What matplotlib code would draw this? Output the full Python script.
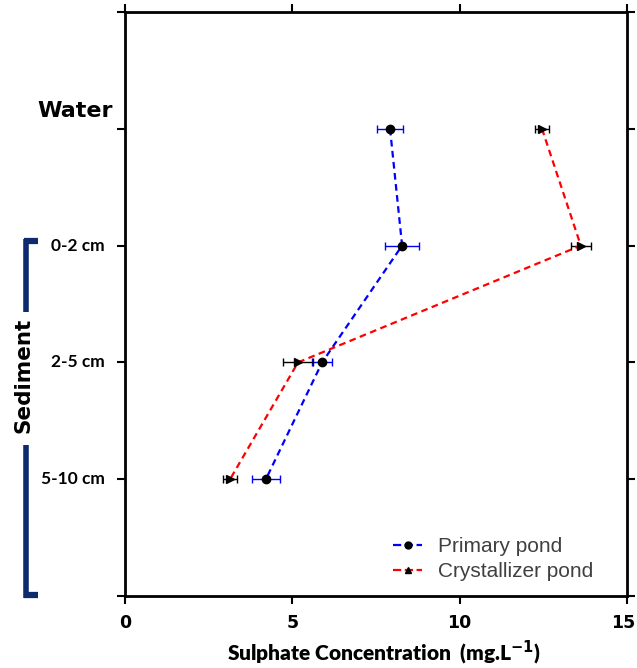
import matplotlib
matplotlib.use("Agg")
import matplotlib.pyplot as plt
from matplotlib.lines import Line2D
from matplotlib.transforms import ScaledTranslation

# Data
layers = ["Water", "0-2 cm", "2-5 cm", "5-10 cm"]
layer_pos = [1, 2, 3, 4]
primary = [7.92, 8.28, 5.89, 4.21]
primary_err = [0.38, 0.5, 0.3, 0.42]
crystal = [12.46, 13.62, 5.17, 3.14]
crystal_err = [0.2, 0.3, 0.45, 0.2]
xticks = [0, 5, 10, 15]

W, H = 637, 668
fig = plt.figure(figsize=(W / 100, H / 100), dpi=100)
ax = fig.add_axes([125 / W, 1 - 596 / H, (627 - 125) / W, (596 - 12) / H])

ax.errorbar(primary, layer_pos, xerr=primary_err, fmt='none', ecolor='blue',
            elinewidth=1, capsize=3, capthick=1, zorder=2)
ax.errorbar(crystal, layer_pos, xerr=crystal_err, fmt='none', ecolor='black',
            elinewidth=1, capsize=3, capthick=1, zorder=2)
ax.plot(primary, layer_pos, color='blue', ls='--', lw=1.6, dashes=(3, 2), zorder=3)
ax.plot(crystal, layer_pos, color='red', ls='--', lw=1.6, dashes=(3, 2), zorder=3)
ax.plot(primary, layer_pos, 'o', color='black', ms=6, zorder=4)
ax.plot(crystal, layer_pos, '>', color='black', ms=6, zorder=4)

ax.set_xlim(0, 15)
ax.set_ylim(5, 0)
ax.set_xticks(xticks)
ax.set_xticklabels([str(t) for t in xticks], fontfamily='DejaVu Sans', fontweight='bold', fontsize=12.5)
ax.set_yticks([0, 1, 2, 3, 4, 5])
ax.set_yticklabels([])
ax.tick_params(axis='both', direction='out', length=6, width=1.5, top=True, right=True,
               labeltop=False, pad=7)
for s in ax.spines.values():
    s.set_linewidth(2)
last = ax.get_xticklabels()[-1]
last.set_transform(last.get_transform() + ScaledTranslation(-4 / 100, 0, fig.dpi_scale_trans))

# y category labels
for lab, p in zip(layers, layer_pos):
    if lab == "Water":
        ax.text(-0.37, p - 0.15, lab, ha='right', va='center', fontfamily='DejaVu Sans',
                fontweight='bold', fontsize=16, transform=ax.transData, clip_on=False)
    else:
        ax.text(-0.6, p, lab, ha='right', va='center', fontfamily='Lato',
                fontweight='bold', fontsize=12.5, transform=ax.transData, clip_on=False)

ax.set_xlabel("Sulphate Concentration  (mg.L$^{\\mathbf{-1}}$)", fontfamily='Lato',
              fontweight='heavy', fontsize=15, labelpad=5)
ax.xaxis.label.set_x((384 - 125) / 502)

# Sediment bracket
navy = '#0d2a6e'
def fx(x): return x / W
def fy(y): return 1 - y / H
fig.add_artist(Line2D([fx(24), fx(38)], [fy(241), fy(241)], color=navy, lw=4.5, solid_capstyle='butt'))
fig.add_artist(Line2D([fx(26), fx(26)], [fy(239), fy(312)], color=navy, lw=4, solid_capstyle='butt'))
fig.add_artist(Line2D([fx(26), fx(26)], [fy(445), fy(598)], color=navy, lw=4, solid_capstyle='butt'))
fig.add_artist(Line2D([fx(24), fx(38)], [fy(595), fy(595)], color=navy, lw=4.5, solid_capstyle='butt'))
fig.text(fx(24), fy(375), "Sediment", rotation=90, ha='center', va='center',
         fontfamily='DejaVu Sans', fontweight='bold', fontsize=15.5)

# Legend
handles = [
    Line2D([0], [0], color='blue', ls='--', lw=1.6, marker='o', mfc='black', mec='black', ms=5),
    Line2D([0], [0], color='red', ls='--', lw=1.6, marker='^', mfc='black', mec='black', ms=5),
]
leg = ax.legend(handles, ["Primary pond", "Crystallizer pond"], loc='upper left',
                bbox_to_anchor=((393 - 125) / 502, (596 - 537) / 584), frameon=False,
                borderpad=0, borderaxespad=0, handlelength=1.4, handletextpad=0.75,
                prop={'family': 'Liberation Sans', 'size': 15}, labelspacing=0.3)
for t in leg.get_texts():
    t.set_color('#404040')

fig.savefig("out.png", dpi=100)
